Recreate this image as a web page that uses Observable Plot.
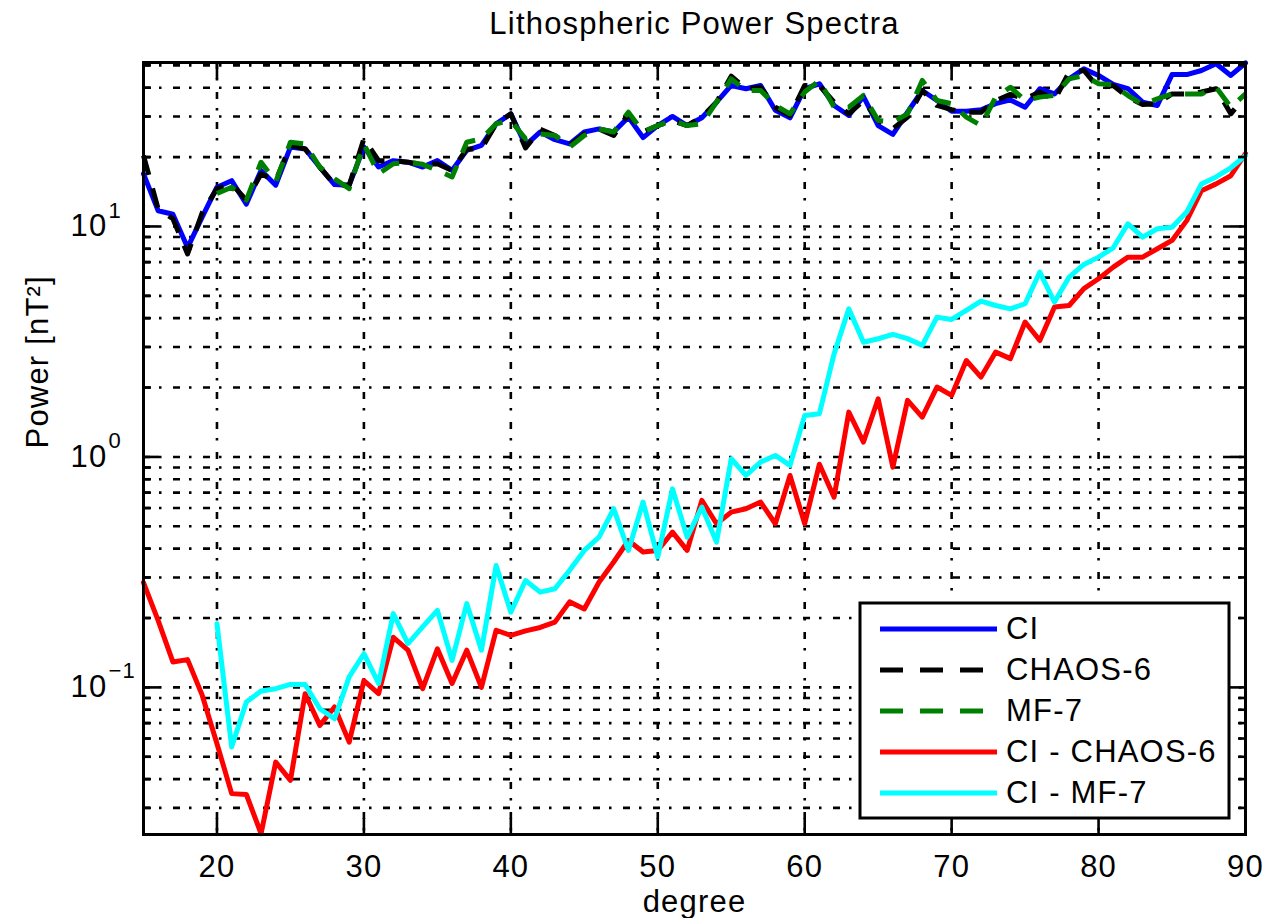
<!DOCTYPE html>
<html>
<head>
<meta charset="utf-8">
<script src="https://cdn.jsdelivr.net/npm/d3@7"></script>
<script src="https://cdn.jsdelivr.net/npm/@observablehq/plot@0.6"></script>
<style>
  html, body { margin: 0; padding: 0; background: #ffffff; }
  #chart { width: 1276px; height: 918px; }
</style>
</head>
<body>
<div id="chart"></div>
<script>
// ---------- data ----------
const titleText = "Lithospheric Power Spectra";
const xLabel = "degree";
const yLabel = "Power [nT²]";

const degrees = d3.range(15, 91); // 15..90
const degreesMF = d3.range(20, 91); // 20..90

const ci = [16.9, 11.7, 11.3, 8.1, 11.0, 14.8, 15.8, 12.5, 17.5, 15.1,
  22.1, 21.7, 18.1, 15.2, 15.1, 22.1, 18.1, 19.3, 19.0, 18.1,
  19.3, 17.5, 21.4, 22.5, 27.9, 30.8, 22.5, 25.7, 23.8, 22.8,
  25.7, 26.5, 25.7, 29.8, 24.3, 27.4, 30.0, 27.4, 29.6, 34.6,
  40.9, 39.6, 40.9, 31.9, 29.6, 39.6, 41.6, 33.5, 30.3, 36.6,
  27.4, 25.1, 31.3, 38.9, 35.2, 31.6, 31.6, 32.1, 34.1, 35.4,
  32.9, 39.6, 37.6, 43.7, 48.3, 45.2, 41.3, 39.6, 34.6, 33.5,
  45.6, 45.6, 47.5, 50.8, 45.2, 51.2];

const chaos6 = [20.3, 11.9, 10.8, 7.6, 11.5, 14.6, 15.3, 13.0, 16.9, 15.8,
  22.5, 21.7, 18.1, 15.2, 15.1, 24.0, 19.3, 19.3, 19.0, 18.6,
  18.7, 17.5, 21.7, 21.7, 27.9, 30.8, 21.9, 26.4, 24.8, 22.5,
  25.2, 26.5, 24.8, 30.8, 25.7, 27.4, 28.8, 27.4, 29.8, 34.6,
  44.9, 39.6, 40.2, 32.9, 30.3, 40.9, 40.9, 34.6, 30.8, 35.2,
  28.8, 26.5, 29.8, 38.9, 33.5, 32.1, 31.3, 31.3, 35.2, 37.4,
  35.8, 38.3, 35.4, 46.7, 47.5, 40.0, 40.9, 36.4, 33.8, 34.1,
  37.6, 37.6, 38.3, 39.6, 30.8, 37.0];

const mf7 = [13.9, 14.8, 13.0, 19.0, 15.6, 23.2, 22.8, 18.1, 16.1, 14.6,
  22.8, 16.9, 18.7, 19.0, 18.6, 17.5, 16.4, 23.2, 24.0, 27.9,
  28.8, 24.0, 25.2, 24.8, 22.1, 24.8, 26.5, 25.7, 31.3, 25.7,
  27.4, 28.8, 27.4, 27.9, 34.6, 43.7, 38.9, 38.9, 33.5, 30.8,
  38.3, 43.0, 32.9, 32.9, 37.0, 28.8, 28.4, 30.8, 43.0, 35.2,
  34.1, 29.8, 27.4, 36.4, 40.2, 35.2, 36.4, 37.0, 43.7, 45.2,
  41.6, 41.3, 37.0, 33.8, 35.8, 37.6, 37.6, 37.6, 40.2, 32.9,
  37.6];

const ciMinusChaos6 = [0.285, 0.195, 0.129, 0.132, 0.0923, 0.0570, 0.0346, 0.0343, 0.0232, 0.0474,
  0.0395, 0.0939, 0.0684, 0.0822, 0.0579, 0.107, 0.0939, 0.165, 0.145, 0.0987,
  0.147, 0.104, 0.145, 0.100, 0.177, 0.168, 0.176, 0.182, 0.192, 0.235,
  0.219, 0.286, 0.350, 0.434, 0.387, 0.393, 0.472, 0.393, 0.648, 0.513,
  0.576, 0.596, 0.637, 0.513, 0.831, 0.513, 0.930, 0.669, 1.565, 1.160,
  1.788, 0.903, 1.759, 1.489, 2.01, 1.849, 2.62, 2.22, 2.85, 2.67,
  3.85, 3.20, 4.47, 4.54, 5.37, 5.93, 6.66, 7.36, 7.36, 8.00,
  8.70, 10.6, 14.3, 15.3, 16.6, 20.7];

const ciMinusMf7 = [0.189, 0.0551, 0.0864, 0.0964, 0.0987, 0.103, 0.103, 0.0808, 0.0731, 0.111,
  0.140, 0.104, 0.209, 0.155, 0.183, 0.216, 0.131, 0.231, 0.145, 0.338,
  0.212, 0.291, 0.259, 0.268, 0.322, 0.393, 0.449, 0.596, 0.393, 0.637,
  0.368, 0.727, 0.449, 0.606, 0.427, 0.982, 0.831, 0.950, 1.015, 0.919,
  1.514, 1.539, 2.80, 4.39, 3.145, 3.256, 3.40, 3.26, 3.05, 4.04,
  3.95, 4.32, 4.74, 4.54, 4.39, 4.62, 6.34, 4.70, 6.03, 6.84,
  7.36, 8.08, 10.27, 8.99, 9.77, 9.93, 11.54, 15.3, 16.4, 17.97,
  20.3];

const seriesNames = ["CI", "CHAOS-6", "MF-7", "CI - CHAOS-6", "CI - MF-7"];
const seriesColors = ["#0000ff", "#000000", "#008000", "#ff0000", "#00ffff"];
const seriesDashed = [false, true, true, false, false];

const xTicks = [20, 30, 40, 50, 60, 70, 80, 90];
const xGrid = [20, 30, 40, 50, 60, 70, 80];
const yMajor = [0.1, 1, 10];
const yExponents = ["−1", "0", "1"];
const yMinor = [0.03, 0.04, 0.05, 0.06, 0.07, 0.08, 0.09,
  0.2, 0.3, 0.4, 0.5, 0.6, 0.7, 0.8, 0.9,
  2, 3, 4, 5, 6, 7, 8, 9,
  20, 30, 40, 50];
const yGrid = yMajor.concat(yMinor);

// ---------- tables ----------
const mk = (xs, ys) => xs.map((d, i) => ({degree: d, power: ys[i]}));
const seriesData = [
  mk(degrees, ci),
  mk(degrees, chaos6),
  mk(degreesMF, mf7),
  mk(degrees, ciMinusChaos6),
  mk(degreesMF, ciMinusMf7)
];

const FONT = "'Liberation Sans', Arial, Helvetica, sans-serif";
const FS = 31;
const gridDash = "7,9,2.5,11.5";
const dataDash = "20,14";

const lineMarks = seriesData.map((data, i) => Plot.line(data, {
  x: "degree", y: "power",
  stroke: seriesColors[i],
  strokeWidth: 5,
  strokeDasharray: seriesDashed[i] ? dataDash : null,
  strokeLinecap: seriesDashed[i] ? "butt" : "round",
  strokeLinejoin: "round"
}));

const plot = Plot.plot({
  width: 1276,
  height: 918,
  marginLeft: 143,
  marginRight: 31,
  marginTop: 62,
  marginBottom: 84,
  style: {fontFamily: FONT, background: "#ffffff", color: "#000000", letterSpacing: "1.2px", overflow: "visible"},
  x: {domain: [15, 90], axis: null},
  y: {type: "log", domain: [0.023, 51.45], axis: null},
  marks: [
    Plot.ruleY(yGrid, {stroke: "#000000", strokeWidth: 2.6, strokeDasharray: gridDash}),
    Plot.ruleX(xGrid, {stroke: "#000000", strokeWidth: 2.6, strokeDasharray: gridDash}),
    ...lineMarks,
    Plot.frame({stroke: "#000000", strokeWidth: 3}),
    // inward ticks
    Plot.axisX(xTicks, {anchor: "bottom", tickSize: -16, tickFormat: () => "", strokeWidth: 2.6, label: null}),
    Plot.axisX(xTicks, {anchor: "top", tickSize: -16, tickFormat: () => "", strokeWidth: 2.6, label: null}),
    Plot.axisY(yMajor, {anchor: "left", tickSize: -16, tickFormat: () => "", strokeWidth: 2.6, label: null}),
    Plot.axisY(yMajor, {anchor: "right", tickSize: -16, tickFormat: () => "", strokeWidth: 2.6, label: null}),
    Plot.axisY(yMinor, {anchor: "left", tickSize: -8, tickFormat: () => "", strokeWidth: 2.6, label: null}),
    Plot.axisY(yMinor, {anchor: "right", tickSize: -8, tickFormat: () => "", strokeWidth: 2.6, label: null}),
    // tick labels
    Plot.text(xTicks, {x: d => d, text: d => String(d), frameAnchor: "bottom", lineAnchor: "bottom", dy: 42, fontSize: FS, fill: "#000000"}),
    Plot.text(yMajor, {y: d => d, text: () => "10", frameAnchor: "left", textAnchor: "end", lineAnchor: "middle", dx: -36, fontSize: FS, fill: "#000000"}),
    Plot.text(yMajor, {y: d => d, text: (d, i) => yExponents[i], frameAnchor: "left", textAnchor: "start", lineAnchor: "middle", dx: -35, dy: -16, fontSize: 22, fill: "#000000"}),
    // axis labels and title
    Plot.text([xLabel], {text: d => d, frameAnchor: "bottom", lineAnchor: "bottom", dy: 77, fontSize: FS, fill: "#000000"}),
    Plot.text([yLabel], {text: d => d, frameAnchor: "left", rotate: -90, lineAnchor: "middle", dx: -105, fontSize: FS, fill: "#000000"}),
    Plot.text([titleText], {text: d => d, frameAnchor: "top", lineAnchor: "bottom", dy: -29, fontSize: FS, fill: "#000000"})
  ]
});

// ---------- legend (inside the axes, lower right) ----------
const svg = d3.select(plot);
const lg = svg.append("g").attr("class", "legend").attr("text-anchor", "start");
const box = {x: 860, y: 603, w: 369, h: 215};
lg.append("rect").attr("x", box.x).attr("y", box.y).attr("width", box.w).attr("height", box.h)
  .attr("fill", "#ffffff").attr("stroke", "#000000").attr("stroke-width", 3);
seriesNames.forEach((name, i) => {
  const yy = 629 + i * 41;
  lg.append("line").attr("x1", 880).attr("x2", 997).attr("y1", yy).attr("y2", yy)
    .attr("stroke", seriesColors[i]).attr("stroke-width", 5)
    .attr("stroke-dasharray", seriesDashed[i] ? "23,17" : null);
  lg.append("text").attr("x", 1006).attr("y", yy + 10)
    .attr("text-anchor", "start")
    .attr("font-size", FS).attr("font-family", FONT).attr("fill", "#000000")
    .text(name);
});

document.getElementById("chart").appendChild(plot);
</script>
</body>
</html>
